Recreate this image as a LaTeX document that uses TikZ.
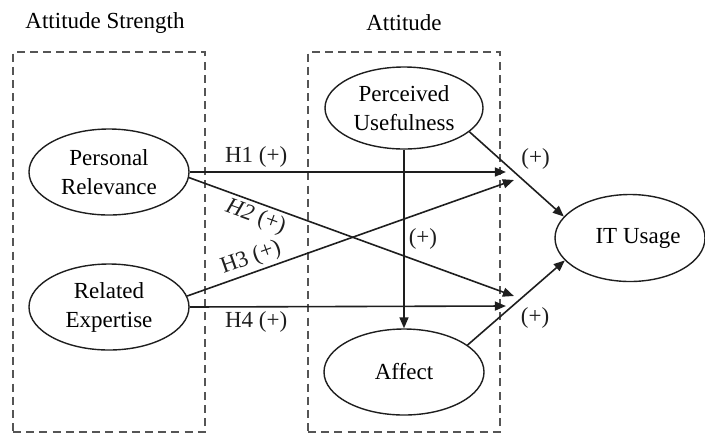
\documentclass[tikz,border=0pt]{standalone}
\usepackage{fontspec}
\setmainfont{Liberation Serif}
\usetikzlibrary{shapes.geometric, arrows.meta, positioning, calc}
\definecolor{bordercolor}{RGB}{30,30,30}
\definecolor{dashgray}{RGB}{85,85,85}
\tikzset{
  base/.style      = {align=center, font=\fontsize{11.5pt}{14.5pt}\selectfont},
  construct/.style = {base, ellipse, draw=bordercolor, line width=0.7pt,
                      minimum width=80pt, minimum height=43pt, inner sep=0pt},
  group/.style     = {draw=dashgray, line width=0.9pt, dash pattern=on 4pt off 2.6pt,
                      minimum width=96pt, minimum height=190pt, inner sep=0pt},
  title/.style     = {base},
  lbl/.style       = {base, inner sep=2pt},
  arr/.style       = {-{Triangle[length=5.5pt, width=4.5pt]}, line width=0.8pt, color=bordercolor},
}

\begin{document}
\begin{tikzpicture}[on grid]
  \useasboundingbox (-54.5pt,-131.5pt) rectangle (298pt,86pt);

  % Attitude strength
  \node[construct] (relevance) {Personal\\Relevance};
  \node[construct, below=67.5pt of relevance] (expertise) {Related\\Expertise};

  % Attitude
  \node[construct, above right=32pt and 147.5pt of relevance, minimum width=79pt, minimum height=41pt] (usefulness) {Perceived\\Usefulness};
  \node[construct, below=132pt of usefulness] (affect) {Affect};

  % Outcome
  \node[construct, below right=65pt and 113pt of usefulness, minimum width=75pt, minimum height=43.5pt] (usage) {\hspace{8pt}IT Usage};

  % Dashed groups
  \node[group, below=35pt of relevance] (strength) {};
  \node[group, below=67pt of usefulness] (attitude) {};
  \node[title] at ($(strength.north)+(-2pt,14pt)$) {Attitude Strength};
  \node[title] at ($(attitude.north)+(0,14pt)$) {Attitude};

  % Arrow ends at the attitude box
  \coordinate (h1end) at ($(attitude.east)+(2.5pt,35pt)$);
  \coordinate (h2end) at ($(attitude.east)+(6.5pt,-27pt)$);
  \coordinate (h3end) at ($(attitude.east)+(6.5pt,31pt)$);
  \coordinate (h4end) at ($(attitude.east)+(2.5pt,-32pt)$);

  % Hypotheses
  \draw[arr] (relevance.east) -- node[lbl, above, pos=0.21] {H1 (+)} (h1end);
  \draw[arr] (relevance.-4) -- node[lbl, below, sloped, pos=0.22, inner sep=1.5pt] {\textit{H2} (+)} (h2end);
  \draw[arr] (expertise.8) -- node[lbl, above, sloped, pos=0.21, inner sep=1.5pt] {H3 (+)} (h3end);
  \draw[arr] (expertise.east) -- node[lbl, below, pos=0.21] {H4 (+)} (h4end);

  % Attitude to usage
  \draw[arr] (usefulness.south) -- node[lbl, right, pos=0.5] {(+)} (affect.north);
  \draw[arr] (usefulness.-20) -- node[lbl, above right, pos=0.5] {(+)} (usage.162);
  \draw[arr] (affect.23) -- node[lbl, below right, pos=0.5] {(+)} (usage.199);

\end{tikzpicture}
\end{document}
